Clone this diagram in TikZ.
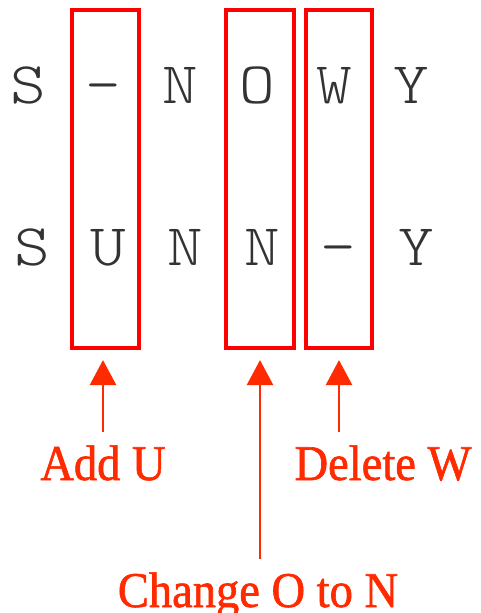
\documentclass[tikz,border=0pt]{standalone}
\usepackage{fontspec}
\setmainfont{Liberation Serif}
\newfontfamily\notefont[FakeStretch=0.93,FakeBold=1.2]{Liberation Serif}
\newfontfamily\glyphfont[FakeStretch=1.15]{Latin Modern Mono Light}
\usetikzlibrary{arrows.meta}
\definecolor{boxred}{RGB}{255,0,0}
\definecolor{notered}{RGB}{255,42,0}
\definecolor{glyph}{RGB}{51,51,51}
\tikzset{
  letter/.style={anchor=base, inner sep=0pt, text=glyph, font=\glyphfont\fontsize{59}{59}\selectfont},
  editbox/.style={draw=boxred, line width=3.6pt, inner sep=0pt},
  note/.style={anchor=base, inner sep=0pt, text=notered, font=\notefont\fontsize{50}{50}\selectfont},
  pointer/.style={draw=notered, line width=2.5pt, -{Triangle[width=26pt,length=25pt]}, shorten >=10pt, shorten <=13pt}
}
\begin{document}
\begin{tikzpicture}[x=1pt, y=-1pt]
\useasboundingbox (0,0) rectangle (480,613);
% highlighted columns
\node[editbox, minimum width=67.5pt, minimum height=338.5pt] (b1) at (105.5,179) {};
\node[editbox, minimum width=67.5pt, minimum height=338.5pt] (b2) at (260,179) {};
\node[editbox, minimum width=65.5pt, minimum height=338.5pt] (b3) at (339,179) {};
% first word
\node[letter] (t1) at (28,103) {S};
\node[letter] (t2) at (103,103) {-};
\node[letter] (t3) at (180,103) {N};
\node[letter] (t4) at (257,103) {O};
\node[letter] (t5) at (334,103) {W};
\node[letter] (t6) at (411,103) {Y};
% second word
\node[letter] (u1) at (32,265) {S};
\node[letter] (u2) at (108,265) {U};
\node[letter] (u3) at (185,265) {N};
\node[letter] (u4) at (262,265) {N};
\node[letter] (u5) at (338,265) {-};
\node[letter] (u6) at (416,265) {Y};
% edit operations
\node[note] (add) at (103,480) {Add U};
\node[note] (del) at (383,480) {Delete W};
\node[note] (chg) at (258,607) {Change O to N};
\draw[pointer] (add.north) -- (add.north |- b1.south);
\draw[pointer] (del.north -| b3.south) -- (b3.south);
\draw[pointer] (chg.north -| b2.south) -- (b2.south);
\end{tikzpicture}
\end{document}
